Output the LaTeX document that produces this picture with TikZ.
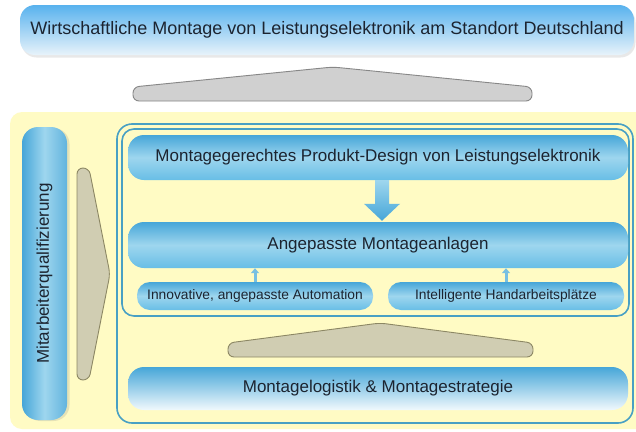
\documentclass[tikz,border=0pt]{standalone}
\usepackage{fontspec}
\setmainfont{Liberation Sans}
\usetikzlibrary{calc,shadows,arrows.meta}

\definecolor{bannerTop}{RGB}{88,178,238}
\definecolor{bannerBot}{RGB}{232,243,250}
\definecolor{boxTop}{RGB}{70,166,216}
\definecolor{boxMid}{RGB}{158,214,238}
\definecolor{boxBot}{RGB}{104,190,230}
\definecolor{bgYellow}{RGB}{255,251,196}
\definecolor{frameLine}{RGB}{72,160,196}
\definecolor{grayFill}{RGB}{208,208,208}
\definecolor{grayLine}{RGB}{135,135,135}
\definecolor{khakiFill}{RGB}{208,205,178}
\definecolor{khakiLine}{RGB}{140,135,100}
\definecolor{txt}{RGB}{28,36,48}
\definecolor{smallArrow}{RGB}{120,192,226}

\tikzset{
  glassbox/.style={rounded corners=16pt, draw=none, text=txt,
    top color=boxTop, bottom color=boxBot, middle color=boxMid,
    inner sep=0pt, font=\fontsize{17}{20}\selectfont},
  smallbox/.style={glassbox, rounded corners=13pt,
    font=\fontsize{13.8}{16}\selectfont},
  banner/.style={rounded corners=15pt, draw=none, text=txt,
    top color=bannerTop, bottom color=bannerBot, inner sep=0pt,
    font=\fontsize{18}{21}\selectfont,
    drop shadow={shadow xshift=1.5pt, shadow yshift=-2.5pt, opacity=0.18}},
  sidebar/.style={rounded corners=16pt, draw=none, text=txt,
    left color=boxTop, right color=boxTop!85!white, middle color=boxMid,
    inner sep=0pt,
    drop shadow={shadow xshift=2.5pt, shadow yshift=-1pt, opacity=0.2}},
  grayshape/.style={fill=grayFill, draw=grayLine, line width=0.9pt, rounded corners=6pt},
  khakishape/.style={fill=khakiFill, draw=khakiLine, line width=0.9pt, rounded corners=6pt},
  frame/.style={draw=frameLine, line width=1.6pt},
  smallup/.style={draw=smallArrow, line width=3pt, -{Triangle[width=8pt,length=5pt]}}
}

\begin{document}
\begin{tikzpicture}[x=1pt,y=-1pt]
\useasboundingbox (0,0) rectangle (636,431);
\fill[white] (0,0) rectangle (636,431);

% goal banner and the gray roof beneath it
\node[banner, minimum width=614pt, minimum height=50pt] (goal) at (327,30)
  {Wirtschaftliche Montage von Leistungselektronik am Standort Deutschland};
\filldraw[grayshape] (133,101) -- (133,87) -- (333,67) -- (532,87) -- (532,101) -- cycle;

% yellow base area
\fill[bgYellow, rounded corners=12pt] (10,112) rectangle (652,429);

% staff qualification column
\node[sidebar, minimum width=45pt, minimum height=293pt] (staff) at (44.5,273.5) {};
\node[rotate=90, text=txt, font=\fontsize{17}{20}\selectfont] (stafftext) at (staff.center)
  {Mitarbeiterqualifizierung};
\filldraw[khakishape] (77,168) -- (89,168) -- (110,274) -- (89,380) -- (77,380) -- cycle;

% frames
\draw[frame, rounded corners=15pt] (117,124) rectangle (633,423);
\draw[frame, rounded corners=12pt] (122,129) rectangle (629,316);

% boxes
\node[glassbox, minimum width=500pt, minimum height=45pt] (design) at (378,157.5)
  {Montagegerechtes Produkt-Design von Leistungselektronik};
\node[glassbox, minimum width=500pt, minimum height=46pt] (plant) at (378,245)
  {Angepasste Montageanlagen};
\node[smallbox, minimum width=236pt, minimum height=28pt] (auto) at (255,296)
  {Innovative, angepasste Automation};
\node[smallbox, minimum width=236pt, minimum height=28pt] (manual) at (506,296)
  {Intelligente Handarbeitsplätze};
\filldraw[khakishape] (228,357) -- (228,343) -- (380,323) -- (533,343) -- (533,357) -- cycle;
\node[glassbox, minimum width=500pt, minimum height=43pt, bottom color=white!85!boxMid] (logistics) at (378,388.5)
  {Montagelogistik \& Montagestrategie};

% block arrow from design to plant
\coordinate (dA) at ($(design.south)+(4,0)$);
\coordinate (dB) at ($(plant.north)+(4,-1)$);
\shade[top color=boxMid, bottom color=boxTop]
  ($(dA)+(-7,0)$) -- ($(dA)+(7,0)$) -- ($(dB)+(7,-17)$) -- ($(dB)+(18,-17)$) --
  (dB) -- ($(dB)+(-18,-17)$) -- ($(dB)+(-7,-17)$) -- cycle;

% small arrows from the two work areas
\draw[smallup] (auto.north) -- (auto.north |- plant.south);
\draw[smallup] (manual.north) -- (manual.north |- plant.south);
\end{tikzpicture}
\end{document}
